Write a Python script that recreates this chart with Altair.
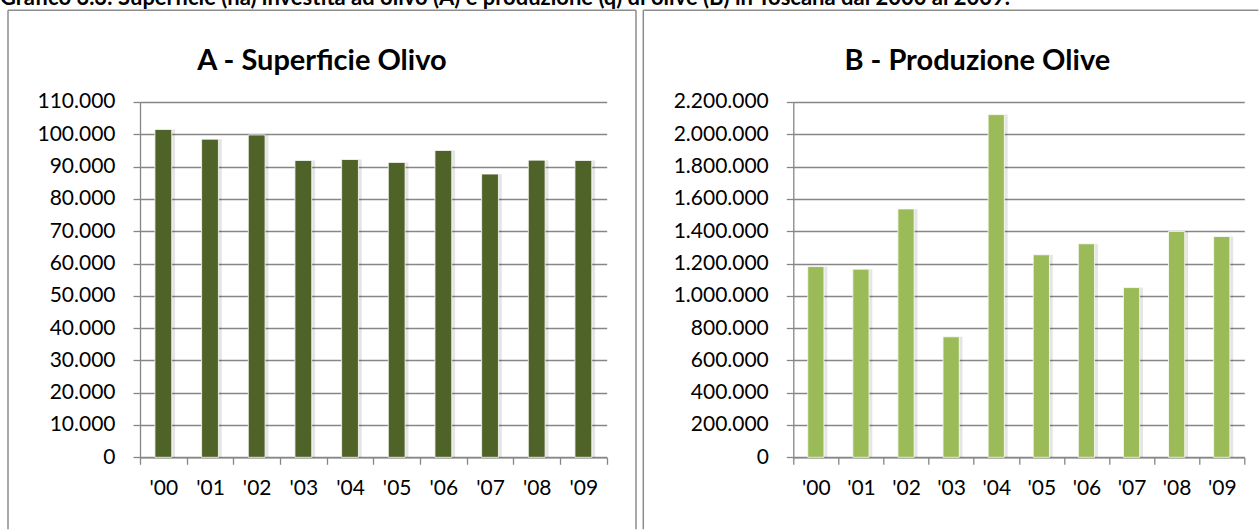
import altair as alt
import pandas as pd

# ---- data ----
years = ["'00", "'01", "'02", "'03", "'04", "'05", "'06", "'07", "'08", "'09"]
superficie = [101500, 98500, 99800, 91900, 92200, 91300, 95000, 87700, 92000, 91900]
produzione = [1181000, 1165000, 1538000, 746000, 2122000, 1254000, 1322000, 1051000, 1398000, 1367000]

main_title = ("Grafico 3.3: Superficie (ha) investita ad olivo (A) e produzione (q) "
              "di olive (B) in Toscana dal 2000 al 2009.")
title_a = "A - Superficie Olivo"
title_b = "B - Produzione Olive"

GRAY = "#868686"
BORDER = "#8c8c8c"
FONT = "Lato"
PLOT_H = 355.3
LABEL_FS = 21
MAIN_FS = 22


def panel(values, color, ymax, step, width, title, title_x, bl, br, main=False):
    df = pd.DataFrame({"anno": years, "valore": values})
    x = alt.X(
        "anno:N", sort=years, title=None,
        scale=alt.Scale(paddingInner=0, paddingOuter=0),
        axis=alt.Axis(tickBand="extent", labelAngle=0, domainColor=GRAY, tickColor=GRAY,
                      tickSize=7, tickWidth=1.3, domainWidth=1.3, labelPadding=13,
                      labelFontSize=LABEL_FS, labelFont=FONT, labelColor="#000", grid=False),
    )
    y = alt.Y(
        "valore:Q", title=None,
        scale=alt.Scale(domain=[0, ymax], nice=False, zero=True),
        axis=alt.Axis(values=list(range(0, ymax + 1, step)), format=",.0f", grid=True,
                      gridColor=GRAY, gridWidth=1.3, domainColor=GRAY, domainWidth=1.3,
                      tickColor=GRAY, tickWidth=1.3, tickSize=7, labelPadding=18,
                      labelFontSize=LABEL_FS, labelFont=FONT, labelColor="#000"),
    )
    shadow = alt.Chart(df).mark_bar(color="#000000", opacity=0.10, xOffset=1.5,
                                    width=alt.RelativeBandSize(0.44)).encode(x=x, y=y)
    bars = alt.Chart(df).mark_bar(color=color, stroke="#ffffff", strokeWidth=0.8,
                                  width=alt.RelativeBandSize(0.36)).encode(x=x, y=y)
    t = alt.Chart(pd.DataFrame({"t": [title]})).mark_text(
        font=FONT, fontSize=29, fontWeight="bold", color="#000", align="center",
        baseline="alphabetic"
    ).encode(text="t:N", x=alt.value(title_x), y=alt.value(-31.7))
    bottom = 427.3
    top_y = -91.7
    top_line = alt.Chart(pd.DataFrame({"a": [0]})).mark_rule(color=BORDER, strokeWidth=1.5).encode(
        x=alt.value(bl), x2=alt.value(br), y=alt.value(top_y))
    left_line = alt.Chart(pd.DataFrame({"a": [0]})).mark_rule(color=BORDER, strokeWidth=1.5).encode(
        x=alt.value(bl), y=alt.value(top_y), y2=alt.value(bottom))
    layers = [shadow, bars, t, top_line, left_line]
    if main:
        right_line = alt.Chart(pd.DataFrame({"a": [0]})).mark_rule(color=BORDER, strokeWidth=1.5).encode(
            x=alt.value(br), y=alt.value(top_y), y2=alt.value(bottom))
        mt = alt.Chart(pd.DataFrame({"t": [main_title]})).mark_text(
            font=FONT, fontSize=MAIN_FS, fontWeight="bold", color="#000", align="left",
            baseline="alphabetic"
        ).encode(text="t:N", x=alt.value(-140), y=alt.value(-96.7))
        layers += [right_line, mt]
    return alt.layer(*layers).properties(width=width, height=PLOT_H)


left = panel(superficie, "#4F6228", 110000, 10000, 466.7, title_a, 182, -132, 496, main=True)
right = panel(produzione, "#9BBB59", 2200000, 200000, 451, title_b, 184, -150, 465)

top_pad = -(round(0.8 * MAIN_FS) - 5)

chart = alt.hconcat(left, right, spacing=186.3, bounds="flush").configure(
    padding={"top": top_pad, "left": 0, "right": 0, "bottom": 0},
    locale={"number": {"decimal": ",", "thousands": ".", "grouping": [3], "currency": ["€", ""]}},
).configure_view(stroke=None)

chart.save("out.html", embed_options={"renderer": "svg", "actions": False})
